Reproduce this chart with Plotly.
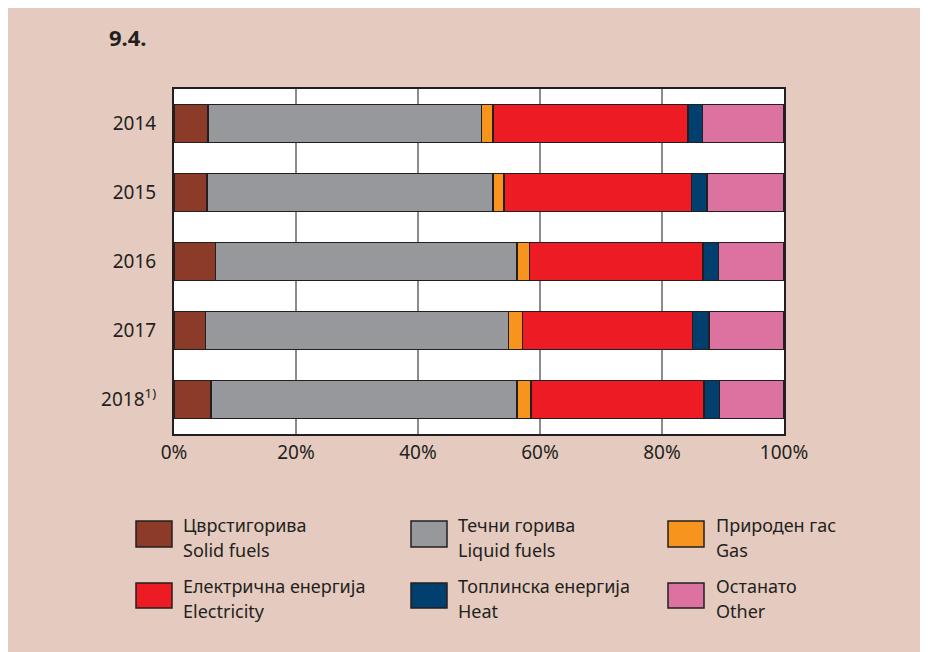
import plotly.graph_objects as go

years = ["2014", "2015", "2016", "2017", "2018<sup>1)</sup>"]
solid = [5.6, 5.4, 6.8, 5.2, 6.1]
liquid = [44.8, 46.9, 49.4, 49.6, 50.1]
gas = [1.9, 1.8, 2.1, 2.3, 2.3]
electricity = [32.0, 30.7, 28.4, 27.9, 28.4]
heat = [2.3, 2.6, 2.6, 2.7, 2.5]
other = [13.4, 12.6, 10.7, 12.3, 10.6]

names_mk = ["Цврстигорива", "Течни горива", "Природен гас",
            "Електрична енергија", "Топлинска енергија", "Останато"]
names_en = ["Solid fuels", "Liquid fuels", "Gas", "Electricity", "Heat", "Other"]
colors = ["#8C3B28", "#97989B", "#F7941D", "#ED1C24", "#003F6E", "#DB72A0"]
series = [solid, liquid, gas, electricity, heat, other]
x_ticks = [0, 20, 40, 60, 80, 100]

W, H = 928, 652
OFF = 7  # page body margin offset
L, R, T, B = 173 - OFF, 783 - OFF, 88 - OFF, 433 - OFF
DARK = "#231F20"
FONT = "Noto Sans"

def px(x):
    return (x - OFF - L) / (R - L)

def py(y):
    return (B - (y - OFF)) / (B - T)

fig = go.Figure()
for vals, nm, en, col in zip(series, names_mk, names_en, colors):
    fig.add_trace(go.Bar(
        y=years, x=vals, orientation="h", name=f"{nm} / {en}",
        marker=dict(color=col, line=dict(color=DARK, width=1.5)),
        showlegend=False, hoverinfo="x+name",
    ))

shapes = []
annotations = [
    dict(text="<b>9.4.</b>", xref="paper", yref="paper", x=px(106), y=py(36),
         xanchor="left", yanchor="middle", showarrow=False,
         font=dict(family=FONT, size=22, color=DARK)),
]

col_sw = [135, 410, 667]
col_tx = [180, 455, 713]
row_sw = [(520, 546), (582, 607)]
row_tx = [(524, 549), (585, 610)]
for i in range(6):
    r, c = divmod(i, 3)
    x0 = col_sw[c]
    y0, y1 = row_sw[r]
    shapes.append(dict(type="rect", xref="paper", yref="paper",
                       x0=px(x0), x1=px(x0 + 36), y0=py(y1), y1=py(y0),
                       fillcolor=colors[i], line=dict(color=DARK, width=1.5)))
    for txt, yy in zip([names_mk[i], names_en[i]], row_tx[r]):
        annotations.append(dict(text=txt, xref="paper", yref="paper",
                                x=px(col_tx[c]), y=py(yy), xanchor="left", yanchor="middle",
                                showarrow=False,
                                font=dict(family=FONT, size=18, color=DARK)))

fig.update_layout(
    width=W, height=H,
    margin=dict(l=L, r=W - R, t=T, b=H - B, pad=0),
    barmode="stack", bargap=0.45,
    paper_bgcolor="#E5CBBF", plot_bgcolor="white",
    font=dict(family=FONT, size=19, color=DARK),
    shapes=shapes, annotations=annotations,
    xaxis=dict(range=[0, 100], tickvals=x_ticks, ticktext=[f"{v}%" for v in x_ticks],
               showgrid=True, gridcolor="#8C8C8C", gridwidth=1.5, zeroline=False,
               showline=True, linecolor=DARK, linewidth=2, mirror=True,
               ticks="", ticklabelstandoff=0, fixedrange=True),
    yaxis=dict(autorange="reversed", showgrid=False, zeroline=False,
               showline=True, linecolor=DARK, linewidth=2, mirror=True,
               ticks="", ticklabelstandoff=12, fixedrange=True),
)

fig.write_html("out.html")
